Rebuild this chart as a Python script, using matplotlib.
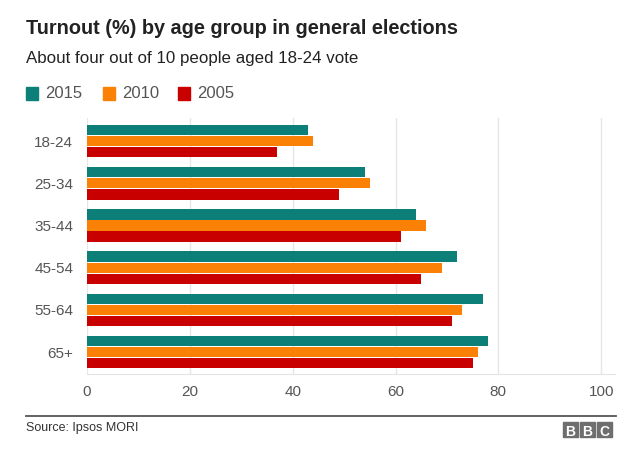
import numpy as np
import matplotlib.pyplot as plt
from matplotlib.patches import Rectangle

plt.rcParams['font.family'] = ['Liberation Sans', 'DejaVu Sans']

# data
groups = ['18-24', '25-34', '35-44', '45-54', '55-64', '65+']
years = ['2015', '2010', '2005']
turnout_2015 = [43, 54, 64, 72, 77, 78]
turnout_2010 = [44, 55, 66, 69, 73, 76]
turnout_2005 = [37, 49, 61, 65, 71, 75]
colors = ['#0b7f78', '#fa8006', '#c80000']

fig = plt.figure(figsize=(6.4, 4.54), dpi=100)
ax = fig.add_axes([0.136, 0.176, 0.825, 0.564])

y = np.arange(len(groups))
h = 0.245
off = 0.262
for i, (vals, c) in enumerate(zip([turnout_2015, turnout_2010, turnout_2005], colors)):
    ax.barh(y + (i - 1) * off, vals, height=h, color=c, zorder=3)

ax.set_xlim(0, 102.7)
ax.set_ylim(5.52, -0.545)
ax.set_xticks([0, 20, 40, 60, 80, 100])
ax.set_yticks(y)
ax.set_yticklabels(groups)
ax.grid(axis='x', color='#e6e6e6', lw=1, zorder=0)
for s in ['top', 'right', 'left']:
    ax.spines[s].set_visible(False)
ax.spines['bottom'].set_color('#e4e4e4')
ax.tick_params(axis='both', length=0, labelsize=11, labelcolor='#555555')
ax.tick_params(axis='x', pad=8)
ax.tick_params(axis='y', pad=10)

# titles
fig.text(26/640, 1 - 28/454, 'Turnout (%) by age group in general elections',
         fontsize=14.3, fontweight='bold', color='#222222', va='center')
fig.text(26/640, 1 - 59/454, 'About four out of 10 people aged 18-24 vote',
         fontsize=12.2, color='#222222', va='center')

# legend
lx = [26, 103, 178]
for x0, yr, c in zip(lx, years, colors):
    fig.patches.append(Rectangle((x0/640, 1 - 100/454), 12/640, 13/454,
                                 transform=fig.transFigure, color=c))
    fig.text((x0 + 19)/640, 1 - 94/454, yr, fontsize=12, color='#555555', va='center')

# footer
fig.add_artist(plt.Line2D([26/640, 616/640], [1 - 416/454, 1 - 416/454],
                          color='#555555', lw=1.3, transform=fig.transFigure))
fig.text(26/640, 1 - 428/454, 'Source: Ipsos MORI', fontsize=9, color='#333333', va='center')
for k, letter in enumerate('BBC'):
    x0 = 563 + k * 17
    fig.patches.append(Rectangle((x0/640, 1 - 437/454), 15/640, 15/454,
                                 transform=fig.transFigure, color='#6e6e6e'))
    fig.text((x0 + 7.5)/640, 1 - 430/454, letter, fontsize=10, fontweight='bold',
             color='white', ha='center', va='center_baseline')

fig.savefig('out.png', dpi=100)
